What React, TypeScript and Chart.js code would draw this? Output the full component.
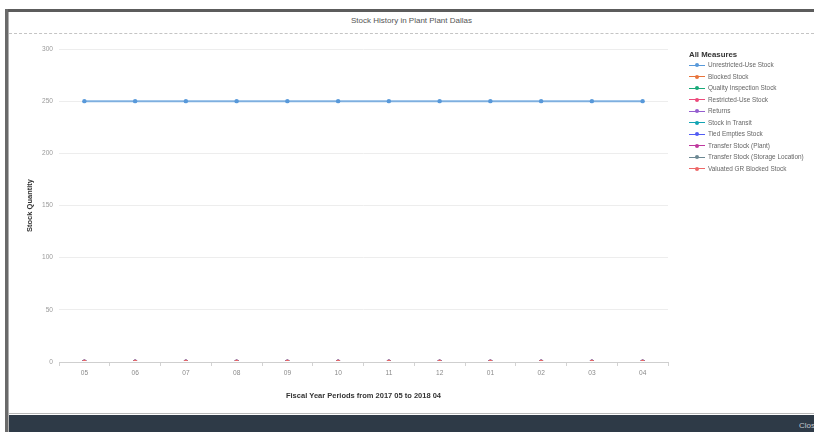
import React, { useEffect, useRef } from "react";
import { Chart, registerables } from "chart.js";

Chart.register(...registerables);

const dialogTitle = "Stock History in Plant Plant Dallas";
const xAxisTitle = "Fiscal Year Periods from 2017 05 to 2018 04";
const yAxisTitle = "Stock Quantity";
const legendTitle = "All Measures";
const closeLabel = "Close";

const periods = ["05", "06", "07", "08", "09", "10", "11", "12", "01", "02", "03", "04"];

const seriesNames = [
  "Unrestricted-Use Stock",
  "Blocked Stock",
  "Quality Inspection Stock",
  "Restricted-Use Stock",
  "Returns",
  "Stock in Transit",
  "Tied Empties Stock",
  "Transfer Stock (Plant)",
  "Transfer Stock (Storage Location)",
  "Valuated GR Blocked Stock",
];

const seriesColors = [
  "#5899DA",
  "#E8743B",
  "#19A979",
  "#ED4A7B",
  "#945ECF",
  "#13A4B4",
  "#525DF4",
  "#BF399E",
  "#6C8893",
  "#EE6868",
];

const unrestrictedUse = [250, 250, 250, 250, 250, 250, 250, 250, 250, 250, 250, 250];
const blockedStock = [0, 0, 0, 0, 0, 0, 0, 0, 0, 0, 0, 0];
const qualityInspection = [0, 0, 0, 0, 0, 0, 0, 0, 0, 0, 0, 0];
const restrictedUse = [0, 0, 0, 0, 0, 0, 0, 0, 0, 0, 0, 0];
const returnsStock = [0, 0, 0, 0, 0, 0, 0, 0, 0, 0, 0, 0];
const stockInTransit = [0, 0, 0, 0, 0, 0, 0, 0, 0, 0, 0, 0];
const tiedEmpties = [0, 0, 0, 0, 0, 0, 0, 0, 0, 0, 0, 0];
const transferPlant = [0, 0, 0, 0, 0, 0, 0, 0, 0, 0, 0, 0];
const transferStorage = [0, 0, 0, 0, 0, 0, 0, 0, 0, 0, 0, 0];
const valuatedGRBlocked = [0, 0, 0, 0, 0, 0, 0, 0, 0, 0, 0, 0];

const yMin = 0;
const yMax = 300;
const yStep = 50;

const FONT = "'Liberation Sans', Arial, Helvetica, sans-serif";

export default function App() {
  const canvasRef = useRef<HTMLCanvasElement>(null);

  useEffect(() => {
    const values = [
      unrestrictedUse,
      blockedStock,
      qualityInspection,
      restrictedUse,
      returnsStock,
      stockInTransit,
      tiedEmpties,
      transferPlant,
      transferStorage,
      valuatedGRBlocked,
    ];
    const datasets = seriesNames.map((name, i) => ({
      label: name,
      data: values[i],
      borderColor: i === 0 ? "rgba(88,153,218,0.75)" : seriesColors[i],
      backgroundColor: seriesColors[i],
      pointBackgroundColor: seriesColors[i],
      pointBorderColor: seriesColors[i],
      pointRadius: 2.2,
      pointBorderWidth: 0,
      borderWidth: 2,
      order: seriesNames.length - 1 - i,
      clip: { left: 8, top: 8, right: 8, bottom: -1 },
    }));

    const chart = new Chart(canvasRef.current!, {
      type: "line",
      data: { labels: periods, datasets },
      options: {
        responsive: false,
        animation: false,
        layout: { padding: { top: 14, right: 146, left: 0, bottom: 0 } },
        plugins: {
          legend: { display: false },
          tooltip: { enabled: false },
        },
        scales: {
          x: {
            offset: true,
            grid: {
              display: true,
              drawOnChartArea: false,
              drawTicks: true,
              tickLength: 4,
              color: "#d2d2d2",
              offset: true,
            },
            border: { display: true, color: "#cfcfcf", width: 1 },
            ticks: {
              color: "#8a8a8a",
              font: { family: FONT, size: 6.6 },
              padding: 3,
              maxRotation: 0,
              autoSkip: false,
            },
            title: {
              display: true,
              text: xAxisTitle,
              color: "#333",
              font: { family: FONT, size: 7.5, weight: "bold" },
              padding: { top: 0, bottom: 12 },
            },
            afterFit: (s: any) => {
              s.height = 50;
            },
          },
          y: {
            min: yMin,
            max: yMax,
            ticks: {
              stepSize: yStep,
              color: "#9a9a9a",
              font: { family: FONT, size: 6.6 },
              padding: 6,
            },
            grid: { color: "#ededed", drawTicks: false },
            border: { display: false },
            title: {
              display: true,
              text: yAxisTitle,
              color: "#333",
              font: { family: FONT, size: 7.5, weight: "bold" },
              padding: { top: 16, bottom: 0 },
            },
            afterFit: (s: any) => {
              s.width = 50;
            },
          },
        },
      },
    });
    return () => chart.destroy();
  }, []);

  return (
    <div
      style={{
        position: "absolute",
        left: 0,
        top: 0,
        width: 814,
        height: 432,
        overflow: "hidden",
        background: "#fff",
        fontFamily: FONT,
      }}
    >
      {/* top dark band */}
      <div style={{ position: "absolute", left: 5, top: 9, width: 809, height: 3, background: "#5c5c5c" }} />
      {/* left dark band */}
      <div style={{ position: "absolute", left: 5, top: 9, width: 3, height: 423, background: "#6a6a6a" }} />
      <div style={{ position: "absolute", left: 8, top: 12, width: 1, height: 420, background: "#b0b0b0" }} />
      {/* dialog title */}
      <div
        style={{
          position: "absolute",
          left: 9,
          top: 15,
          width: 805,
          height: 11,
          lineHeight: "11px",
          textAlign: "center",
          fontSize: 8,
          color: "#555",
          whiteSpace: "nowrap",
        }}
      >
        {dialogTitle}
      </div>
      {/* header separator */}
      <div style={{ position: "absolute", left: 9, top: 33, width: 805, height: 0, borderTop: "1px dashed #c4c4c4" }} />
      {/* chart */}
      <canvas
        ref={canvasRef}
        width={805}
        height={377}
        style={{ position: "absolute", left: 9, top: 35, width: 805, height: 377 }}
      />
      {/* legend */}
      <div
        style={{
          position: "absolute",
          left: 689,
          top: 49,
          height: 11,
          lineHeight: "11px",
          fontSize: 7.8,
          fontWeight: "bold",
          color: "#333",
          whiteSpace: "nowrap",
        }}
      >
        {legendTitle}
      </div>
      {seriesNames.map((name, i) => {
        const cy = 65.3 + i * 11.5;
        return (
          <React.Fragment key={name}>
            <div
              style={{
                position: "absolute",
                left: 689,
                top: cy - 0.5,
                width: 16,
                height: 1.2,
                background: seriesColors[i],
              }}
            />
            <div
              style={{
                position: "absolute",
                left: 695.3,
                top: cy - 2,
                width: 4,
                height: 4,
                borderRadius: 2,
                background: seriesColors[i],
              }}
            />
            <div
              style={{
                position: "absolute",
                left: 708,
                top: cy - 5,
                height: 10,
                lineHeight: "10px",
                fontSize: 6.4,
                color: "#666",
                whiteSpace: "nowrap",
              }}
            >
              {name}
            </div>
          </React.Fragment>
        );
      })}
      {/* footer */}
      <div style={{ position: "absolute", left: 9, top: 413, width: 805, height: 1, background: "#b9b9b9" }} />
      <div style={{ position: "absolute", left: 9, top: 415, width: 805, height: 17, background: "#2e3a47" }} />
      <div
        style={{
          position: "absolute",
          left: 799,
          top: 421,
          height: 10,
          lineHeight: "10px",
          fontSize: 8,
          color: "#c3c8ce",
          whiteSpace: "nowrap",
        }}
      >
        {closeLabel}
      </div>
    </div>
  );
}
